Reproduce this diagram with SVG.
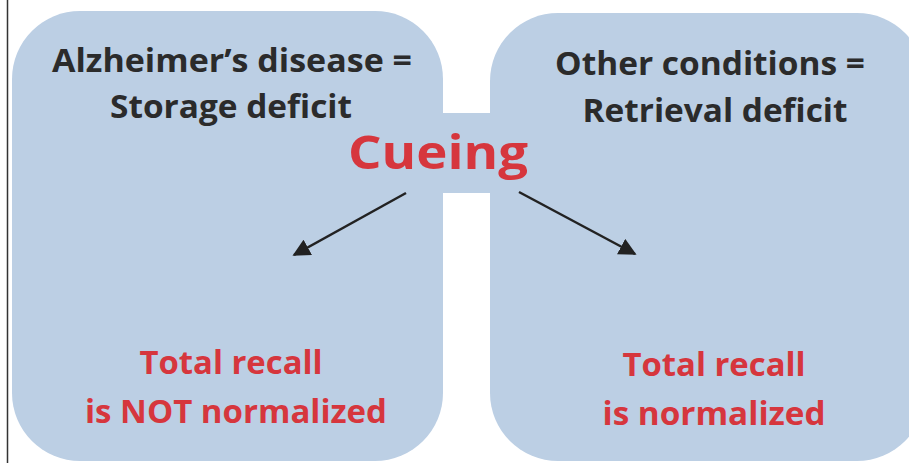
<svg xmlns="http://www.w3.org/2000/svg" width="909" height="463" viewBox="0 0 909 463">
<style>
.panel{fill:#bccfe4}
.dark{font-family:"Open Sans","Liberation Sans",sans-serif;font-weight:bold;font-size:32px;fill:#2b2b2b;text-anchor:middle}
.red{font-family:"Open Sans","Liberation Sans",sans-serif;font-weight:bold;font-size:33px;fill:#d6363d;text-anchor:middle}
.cue{font-family:"Open Sans","Liberation Sans",sans-serif;font-weight:bold;font-size:46px;fill:#d6363d;text-anchor:middle}
.arrow{stroke:#222;stroke-width:2.5;fill:none}
</style>
<defs>
<marker id="ah" viewBox="0 0 10 10" refX="9" refY="5" markerWidth="7" markerHeight="7" markerUnits="strokeWidth" orient="auto">
<path d="M0,0 L10,5 L0,10 z" fill="#222"/>
</marker>
</defs>
<rect width="909" height="463" fill="#ffffff"/>
<line x1="7.5" y1="0" x2="7.5" y2="463" stroke="#333" stroke-width="1.5"/>
<g id="bridge"><rect class="panel" x="440" y="113" width="54" height="80"/></g>
<g id="left-panel">
<rect class="panel" x="12" y="11" width="431" height="450" rx="68" ry="68"/>
<text class="dark" x="232" y="72" textLength="360" lengthAdjust="spacingAndGlyphs">Alzheimer’s disease =</text>
<text class="dark" x="231" y="118" textLength="242" lengthAdjust="spacingAndGlyphs">Storage deficit</text>
<text class="red" x="231" y="374" textLength="183" lengthAdjust="spacingAndGlyphs">Total recall</text>
<text class="red" x="236" y="423" textLength="302" lengthAdjust="spacingAndGlyphs">is NOT normalized</text>
</g>
<g id="right-panel">
<rect class="panel" x="490" y="13" width="435" height="448" rx="68" ry="68"/>
<text class="dark" x="710" y="75" textLength="310" lengthAdjust="spacingAndGlyphs">Other conditions =</text>
<text class="dark" x="715" y="122" textLength="265" lengthAdjust="spacingAndGlyphs">Retrieval deficit</text>
<text class="red" x="714" y="376" textLength="183" lengthAdjust="spacingAndGlyphs">Total recall</text>
<text class="red" x="714" y="425" textLength="223" lengthAdjust="spacingAndGlyphs">is normalized</text>
</g>
<g id="cueing">
<text class="cue" x="438" y="169" textLength="180" lengthAdjust="spacingAndGlyphs">Cueing</text>
</g>
<g id="connectors">
<line class="arrow" x1="406" y1="193" x2="294" y2="255" marker-end="url(#ah)"/>
<line class="arrow" x1="519" y1="192" x2="635" y2="254" marker-end="url(#ah)"/>
</g>
</svg>
